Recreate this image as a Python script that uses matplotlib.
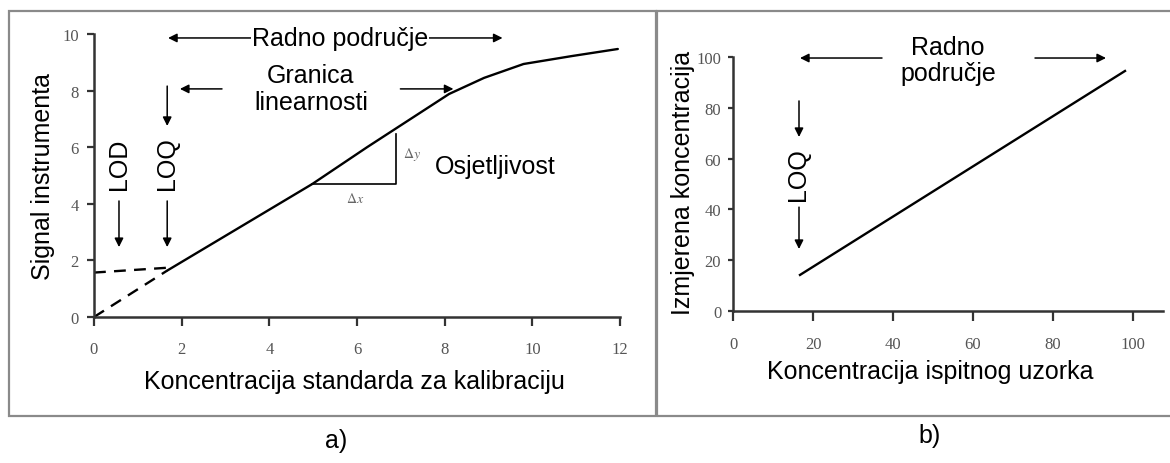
import matplotlib
matplotlib.use("Agg")
import matplotlib.pyplot as plt
from matplotlib.patches import Rectangle

# ---------------- data ----------------
# panel a) calibration curve
cal_x = [1.67, 4.98, 6.23, 8.1, 8.9, 9.8, 10.9, 11.95]
cal_y = [1.64, 4.70, 6.0, 7.88, 8.45, 8.94, 9.22, 9.47]
dash_origin_x = [0.0, 1.67]
dash_origin_y = [0.0, 1.64]
dash_blank_x = [0.0, 1.67]
dash_blank_y = [1.57, 1.74]
a_xticks = [0, 2, 4, 6, 8, 10, 12]
a_yticks = [0, 2, 4, 6, 8, 10]

# panel b) measured vs sample concentration
meas_x = [16.75, 98.0]
meas_y = [14.2, 94.5]
b_xticks = [0, 20, 40, 60, 80, 100]
b_yticks = [0, 20, 40, 60, 80, 100]

SANS = ["Liberation Sans", "DejaVu Sans"]
SERIF = ["Liberation Serif", "DejaVu Serif"]
plt.rcParams["font.family"] = SANS
plt.rcParams["mathtext.fontset"] = "stix"

W, H = 1170, 464
fig = plt.figure(figsize=(W / 100, H / 100), dpi=100)
fig.patch.set_facecolor("white")


def px_axes(x0, y0, x1, y1):
    # pixel box (top-left origin) -> axes
    return fig.add_axes([x0 / W, 1 - y1 / H, (x1 - x0) / W, (y1 - y0) / H])


def style_axes(ax, xlen, ylen, xpad, ypad):
    for s in ["top", "right"]:
        ax.spines[s].set_visible(False)
    for s in ["left", "bottom"]:
        ax.spines[s].set_linewidth(1.8)
        ax.spines[s].set_color("#333333")
    ax.tick_params(axis="x", direction="out", length=xlen, width=1.6,
                   color="#333333", pad=xpad, labelsize=12, labelcolor="#555555")
    ax.tick_params(axis="y", direction="out", length=ylen, width=1.6,
                   color="#333333", pad=ypad, labelsize=12, labelcolor="#555555")
    for lab in ax.get_xticklabels() + ax.get_yticklabels():
        lab.set_family(SERIF)


arrow = dict(arrowstyle="-|>", color="black", lw=1.1, mutation_scale=13,
             shrinkA=0, shrinkB=0)


def arr(ax, x0, y0, x1, y1):
    ax.annotate("", xy=(x1, y1), xytext=(x0, y0), arrowprops=arrow,
                annotation_clip=False)


# ---------------- panel a ----------------
ax = px_axes(94, 35, 620, 318)
ax.plot(cal_x, cal_y, color="black", lw=1.7, solid_capstyle="round")
ax.plot(dash_origin_x, dash_origin_y, color="black", lw=1.7, dashes=(5, 3.5))
ax.plot(dash_blank_x, dash_blank_y, color="black", lw=1.7, dashes=(5, 3.5))
ax.set_xlim(0, 12)
ax.set_ylim(0, 10)
ax.set_xticks(a_xticks)
ax.set_yticks(a_yticks)
style_axes(ax, 6.5, 5, 11, 6)

# sensitivity triangle
ax.plot([4.98, 6.9, 6.9], [4.70, 4.70, 6.47], color="black", lw=1.2)
ax.text(5.96, 4.22, r"$\Delta x$", ha="center", va="center", fontsize=10, color="#666666")
ax.text(7.26, 5.78, r"$\Delta y$", ha="center", va="center", fontsize=10, color="#666666")
ax.text(7.78, 5.34, "Osjetljivost", ha="left", va="center", fontsize=18)

# working range
ax.annotate("", xy=(1.69, 9.86), xytext=(9.32, 9.86),
            arrowprops=dict(arrowstyle="<|-|>", color="black", lw=1.1,
                            mutation_scale=13, shrinkA=0, shrinkB=0),
            annotation_clip=False)
ax.text(5.62, 9.86, "Radno područje", ha="center", va="center", fontsize=18,
        bbox=dict(facecolor="white", edgecolor="none", pad=0.5))

# linearity limit
ax.text(4.95, 8.06, "Granica\nlinearnosti", ha="center", va="center",
        fontsize=18, linespacing=1.15)
arr(ax, 2.92, 8.06, 1.96, 8.06)
arr(ax, 6.99, 8.06, 8.2, 8.06)

# LOD / LOQ
ax.text(0.57, 5.44, "LOD", rotation=90, ha="center", va="center", fontsize=18)
ax.text(1.67, 5.44, "LOQ", rotation=90, ha="center", va="center", fontsize=18)
arr(ax, 1.67, 8.16, 1.67, 6.75)
arr(ax, 0.57, 4.1, 0.57, 2.47)
arr(ax, 1.67, 4.1, 1.67, 2.47)

ax.set_ylabel("Signal instrumenta", fontsize=18, va="center")
ax.yaxis.set_label_coords(-0.097, 0.5)
ax.set_xlabel("Koncentracija standarda za kalibraciju", fontsize=18, va="center")
ax.xaxis.set_label_coords(0.496, -0.226)

# ---------------- panel b ----------------
bx = px_axes(733, 58, 1163, 312)
bx.plot(meas_x, meas_y, color="black", lw=1.7)
bx.set_xlim(0, 107.5)
bx.set_ylim(0, 100)
bx.set_xticks(b_xticks)
bx.set_yticks(b_yticks)
style_axes(bx, 7, 3.5, 11, 5)

bx.text(53.75, 98.8, "Radno\npodručje", ha="center", va="center", fontsize=18,
        linespacing=1.15)
arr(bx, 37.25, 99.6, 16.75, 99.6)
arr(bx, 75.5, 99.6, 93.25, 99.6)
bx.text(16.25, 54.3, "LOQ", rotation=90, ha="center", va="center", fontsize=18)
arr(bx, 16.5, 82.7, 16.5, 68.5)
arr(bx, 16.5, 40.9, 16.5, 24.4)

bx.set_ylabel("Izmjerena koncentracija", fontsize=18, va="center")
bx.yaxis.set_label_coords(-0.116, 0.508)
bx.set_xlabel("Koncentracija ispitnog uzorka", fontsize=18, va="center")
bx.xaxis.set_label_coords(0.458, -0.236)

# ---------------- frames and captions ----------------
for (x0, y0, x1, y1) in [(9, 12, 656, 417), (657, 12, 1175, 417)]:
    fig.add_artist(Rectangle((x0 / W, 1 - y1 / H), (x1 - x0) / W, (y1 - y0) / H,
                             transform=fig.transFigure, fill=False,
                             edgecolor="#8a8a8a", lw=1.6))
fig.text(336 / W, 1 - 441 / H, "a)", ha="center", va="center", fontsize=18)
fig.text(930 / W, 1 - 436 / H, "b)", ha="center", va="center", fontsize=18)

fig.savefig("out.png", dpi=100, facecolor="white")
